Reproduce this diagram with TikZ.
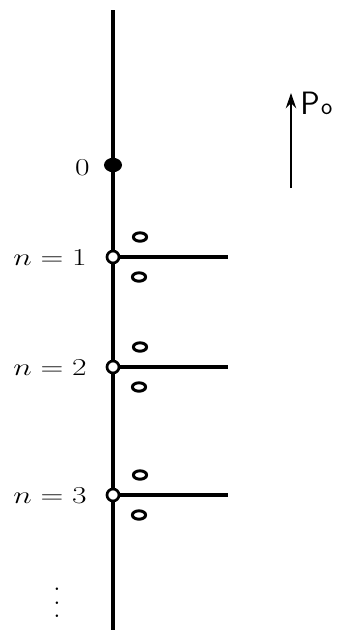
\documentclass[tikz,border=0pt]{standalone}
\usepackage{tikz}
\usetikzlibrary{shapes.geometric, arrows.meta}

\begin{document}
\begin{tikzpicture}[x=0.025cm, y=-0.025cm,
    acik/.style={circle, draw, fill=white, line width=1.9pt, inner sep=0pt, minimum size=0.3cm},
    dolu/.style={ellipse, fill, inner sep=0pt, minimum width=0.45cm, minimum height=0.36cm},
    halka/.style={ellipse, draw, line width=2.1pt, inner sep=0pt, minimum width=0.33cm, minimum height=0.21cm},
    etiket/.style={font=\fontsize{19}{22}\selectfont, anchor=east, xscale=1.3, transform shape}]

                \useasboundingbox (0,0) rectangle (339,634);

                % --- Ana eksen ---
                \coordinate (ust) at (113,10);
                \coordinate (alt) at (113,630);
                \draw[line width=3.2pt] (ust) -- (alt);

                % --- Başlangıç noktası ---
                \node[dolu] (s0) at (113,165) {};
                \node[etiket] (l0) at (96,168) {$0$};

                % --- Dallar ---
                \foreach \n/\y in {1/257, 2/367, 3/495} {
                    \coordinate (u\n) at (228,\y);
                    \draw[line width=2.6pt] (113,\y) -- (u\n);
                    \node[acik] (s\n) at (113,\y) {};
                    \node[halka] (h\n a) at (140,\y-20) {};
                    \node[halka] (h\n b) at (139,\y+20) {};
                    \node[etiket] (l\n) at (93,\y+1) {$n=\n$};
                }

                % --- Devam noktaları ---
                \node[font=\fontsize{22}{26}\selectfont, inner sep=0pt] (nokta) at (57,603)
                    {\vbox{\baselineskip9.6pt\lineskiplimit0pt\hbox{.}\hbox{.}\hbox{.}}};

                % --- Momentum oku ---
                \coordinate (okalt) at (291,188);
                \coordinate (okust) at (291,93);
                \draw[line width=1.4pt, -{Stealth[length=0.38cm, width=0.26cm]}] (okalt) -- (okust);
                \node[anchor=base west, inner sep=0pt, font=\sffamily] (p0) at (300,114)
                    {\fontsize{23}{26}\selectfont P\kern1pt{\fontsize{17}{20}\selectfont o}};

            \end{tikzpicture}
\end{document}
